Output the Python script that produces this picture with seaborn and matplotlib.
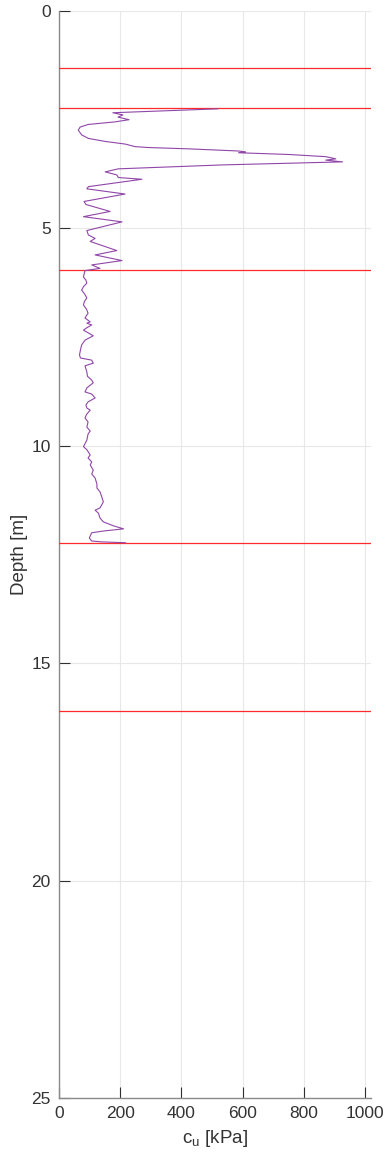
import matplotlib
matplotlib.use("Agg")
import matplotlib.pyplot as plt
import seaborn as sns
import pandas as pd

# Undrained shear strength profile from the cone test
depth_m = [
    2.25, 2.34, 2.39, 2.44, 2.50, 2.55, 2.61, 2.67, 2.74, 2.85, 2.93, 3.00,
    3.06, 3.12, 3.14, 3.17, 3.22, 3.24, 3.26, 3.30, 3.35, 3.40, 3.43, 3.47,
    3.54, 3.63, 3.70, 3.77, 3.83, 3.87, 4.04, 4.09, 4.21, 4.38, 4.45, 4.61,
    4.73, 4.85, 5.05, 5.15, 5.23, 5.30, 5.51, 5.61, 5.74, 5.84, 5.92, 5.97,
    6.05, 6.12, 6.19, 6.26, 6.34, 6.42, 6.51, 6.60, 6.68, 6.76, 6.86, 6.95,
    7.06, 7.15, 7.18, 7.22, 7.28, 7.34, 7.40, 7.47, 7.57, 7.68, 7.80, 7.91,
    7.98, 8.03, 8.10, 8.16, 8.23, 8.30, 8.40, 8.49, 8.55, 8.67, 8.76, 8.81,
    8.90, 8.99, 9.06, 9.13, 9.18, 9.28, 9.36, 9.45, 9.57, 9.66, 9.73, 9.87,
    10.02, 10.09, 10.21, 10.28, 10.37, 10.44, 10.56, 10.65, 10.74, 10.88,
    10.97, 11.06, 11.18, 11.29, 11.43, 11.48, 11.55, 11.66, 11.71, 11.75,
    11.84, 11.91, 11.96, 12.00, 12.12, 12.19, 12.21, 12.23,
]
cu_kpa = [
    520, 176, 209, 193, 229, 183, 95, 69, 63, 74, 96, 151,
    216, 249, 292, 423, 587, 610, 587, 751, 872, 905, 872, 927,
    534, 194, 151, 189, 194, 271, 96, 91, 216, 82, 88, 167,
    80, 206, 91, 96, 118, 102, 189, 118, 206, 107, 134, 85,
    82, 80, 88, 91, 80, 74, 84, 91, 83, 80, 90, 95,
    85, 102, 91, 107, 92, 80, 95, 112, 85, 74, 70, 67,
    70, 107, 112, 85, 88, 91, 93, 107, 112, 91, 85, 107,
    118, 95, 88, 91, 102, 90, 85, 95, 91, 102, 95, 91,
    80, 91, 102, 95, 107, 102, 112, 107, 118, 124,
    124, 134, 140, 145, 134, 118, 129, 134, 140, 145,
    178, 211, 145, 107, 99, 107, 140, 218,
]

# Layer boundaries
layer_depths = [1.32, 2.24, 5.96, 12.24, 16.10]

x_ticks = [0, 200, 400, 600, 800, 1000]
y_ticks = [0, 5, 10, 15, 20, 25]

sns.set_theme(style="whitegrid")
plt.rcParams["font.family"] = ["Liberation Sans", "DejaVu Sans"]

df = pd.DataFrame({"depth": depth_m, "cu": cu_kpa})

fig = plt.figure(figsize=(3.88, 11.57), dpi=100)
ax = fig.add_axes([59 / 388, 1 - 1098 / 1157, (371 - 59) / 388, (1098 - 11) / 1157])
ax.set_facecolor("white")

for d in layer_depths:
    ax.axhline(d, color="#ff2a2a", lw=0.9, zorder=3)

sns.lineplot(data=df, x="cu", y="depth", sort=False, estimator=None,
             color="#9046a8", lw=0.8, ax=ax, zorder=4)

ax.set_xlim(0, 1020)
ax.set_ylim(25, 0)
ax.set_xticks(x_ticks)
ax.set_yticks(y_ticks)

ax.grid(True, color="#e8e8e8", lw=0.8)
for side in ("top", "right"):
    ax.spines[side].set_visible(False)
for side in ("left", "bottom"):
    ax.spines[side].set_visible(True)
    ax.spines[side].set_color("#8a8a8a")
    ax.spines[side].set_linewidth(1.0)

ax.tick_params(axis="both", which="major", direction="in", length=8, width=0.8,
               color="#303030", labelsize=12.5, labelcolor="#333333", pad=6,
               left=True, bottom=True)

ax.set_xlabel("c$_\\mathregular{u}$ [kPa]", fontsize=13.5, color="#333333", labelpad=5)
ax.set_ylabel("Depth [m]", fontsize=13.5, color="#333333", labelpad=2)

fig.savefig("out.png", dpi=100, facecolor="white")
